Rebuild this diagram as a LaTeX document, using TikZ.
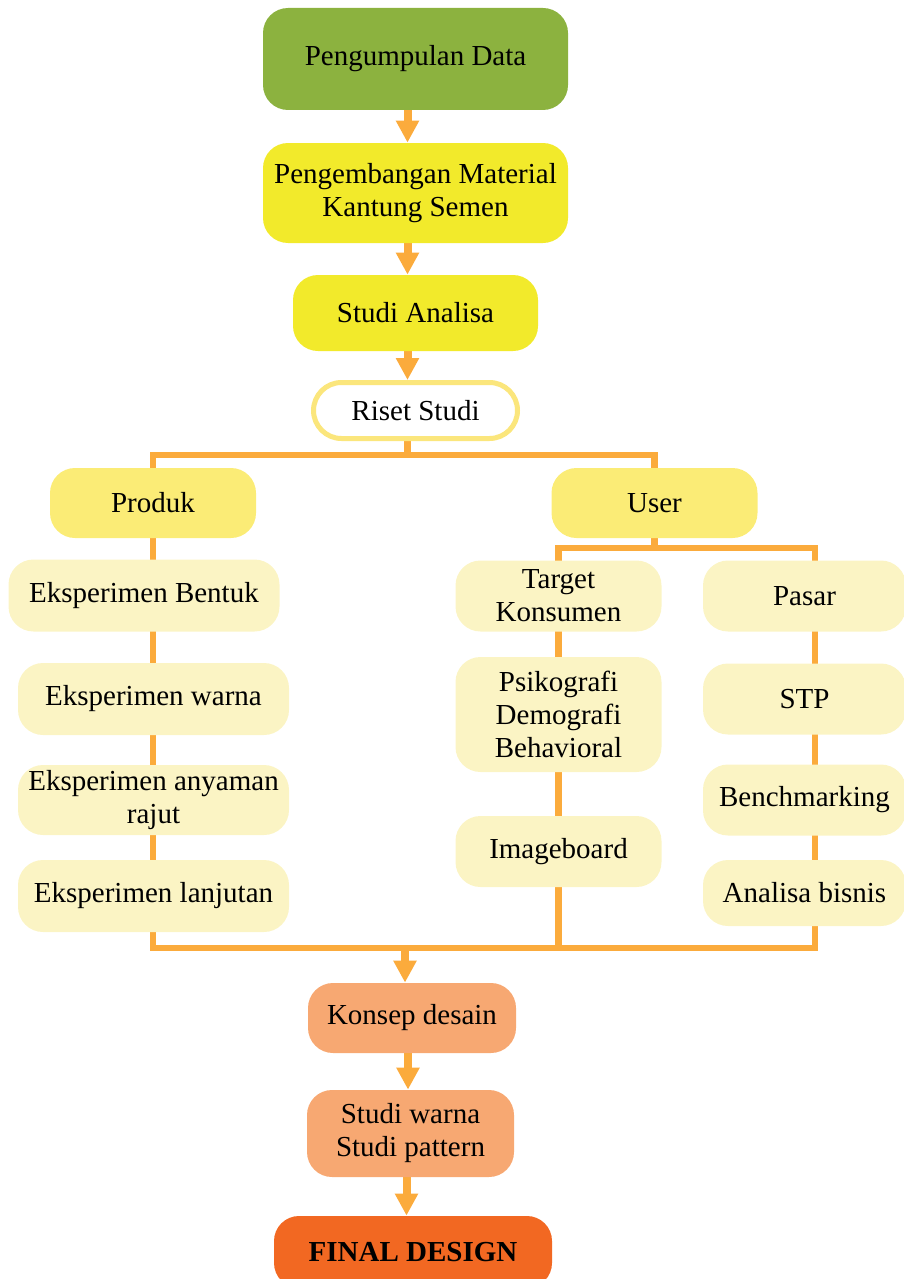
\documentclass[tikz,border=0pt]{standalone}
\usepackage{fontspec}
\setmainfont{Liberation Serif}
\usetikzlibrary{arrows.meta,backgrounds}
\definecolor{leaf}{HTML}{8CB23F}
\definecolor{lemon}{HTML}{F2EA2B}
\definecolor{butter}{HTML}{FBEC76}
\definecolor{cream}{HTML}{FBF4C4}
\definecolor{rim}{HTML}{FBE67C}
\definecolor{peach}{HTML}{F7A872}
\definecolor{flame}{HTML}{F26822}
\definecolor{pipe}{HTML}{FBAB3C}
\begin{document}
\begin{tikzpicture}[x=0.5pt,y=-0.5pt,
  box/.style={rounded corners=12.5pt,align=center,inner sep=0pt,font=\fontsize{14.5}{16.5}\selectfont},
  pale/.style={box,fill=cream,minimum width=135.5pt,minimum height=36pt},
  paler/.style={box,fill=cream,minimum width=103pt,minimum height=35.5pt},
  flow/.style={draw=pipe,line width=4pt,-{Triangle[width=11pt,length=11pt]}},
  link/.style={draw=pipe,line width=3.2pt,line cap=rect}]
\useasboundingbox (0,0) rectangle (904,1279);

\node [box,fill=leaf,minimum width=152.5pt,minimum height=51pt] (0) at (415.5,59) {Pengumpulan Data};
\node [box,fill=lemon,minimum width=152.5pt,minimum height=50pt] (1) at (415.5,193) {Pengembangan Material\\Kantung Semen};
\node [box,fill=lemon,minimum width=122.5pt,minimum height=38pt] (2) at (415.5,313) {Studi Analisa};
\node [box,draw=rim,line width=2.5pt,fill=white,rounded corners=14pt,minimum width=102pt,minimum height=28pt] (3) at (415.5,410.5) {Riset Studi};

\node [box,fill=butter,minimum width=103pt,minimum height=35pt] (4) at (153,503) {Produk};
\node [box,fill=butter,minimum width=103pt,minimum height=35pt] (5) at (654.5,503) {User};

\node [pale] (6) at (144,595.5) {Eksperimen Bentuk};
\node [pale] (7) at (153.5,699) {Eksperimen warna};
\node [pale,minimum height=35pt] (8) at (153.5,800) {Eksperimen anyaman\\rajut};
\node [pale] (9) at (153.5,896) {Eksperimen lanjutan};

\node [paler] (10) at (558.5,596) {Target\\Konsumen};
\node [paler,minimum height=57.5pt] (11) at (558.5,714.5) {Psikografi\\Demografi\\Behavioral};
\node [paler] (12) at (558.5,851.5) {Imageboard};

\node [paler,minimum width=101.5pt] (13) at (804.5,596) {Pasar};
\node [paler,minimum width=101.5pt] (14) at (804.5,699) {STP};
\node [paler,minimum width=101.5pt] (15) at (804.5,800) {Benchmarking};
\node [paler,minimum width=101.5pt,minimum height=33pt] (16) at (804.5,893) {Analisa bisnis};

\node [box,fill=peach,minimum width=104pt,minimum height=35pt] (17) at (412,1018) {Konsep desain};
\node [box,fill=peach,minimum width=103.5pt,minimum height=43.5pt] (18) at (410.5,1133.5) {Studi warna\\Studi pattern};
\node [box,fill=flame,minimum width=139pt,minimum height=36pt,font=\fontsize{14.5}{16.5}\selectfont\bfseries] (19) at (413,1252) {FINAL DESIGN};

\coordinate (20) at (407,455);
\coordinate (21) at (654.5,548);
\coordinate (22) at (153,948);
\coordinate (23) at (815,948);
\coordinate (24) at (405,948);

\begin{scope}[on background layer]
\draw [flow] ([xshift=-4pt]0.south) to ([xshift=-4pt]1.north);
\draw [flow] ([xshift=-4pt]1.south) to ([xshift=-4pt]2.north);
\draw [flow] ([xshift=-4pt]2.south) to ([xshift=-4pt]3.north);
\draw [link] ([xshift=-4pt]3.south) to ([xshift=-4pt]3.south |- 20);
\draw [link] (4.north) |- (20) -| (5.north);

\draw [link] (4.south) -- (22) -- (23);
\draw [link] (5.south) -- (21);
\draw [link] (10.north) |- (21) -| (23);
\draw [link] (10.south) -- (10.south |- 22);

\draw [flow] (24) to (24 |- 17.north);
\draw [flow] ([xshift=-2pt]17.south) to ([xshift=-2pt]17.south |- 18.north);
\draw [flow] ([xshift=-2pt]18.south) to ([xshift=-2pt]18.south |- 19.north);
\end{scope}
\end{tikzpicture}
\end{document}
